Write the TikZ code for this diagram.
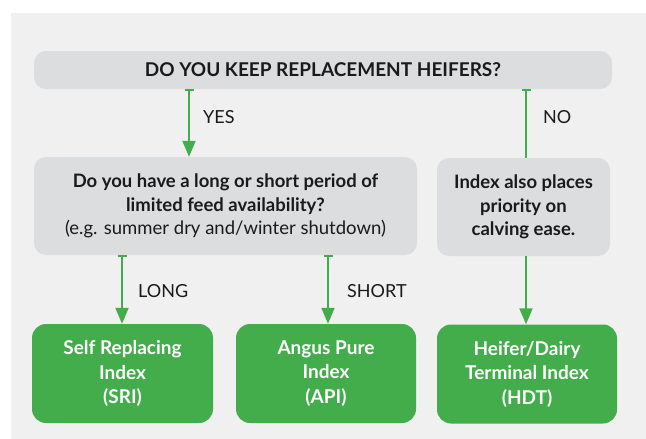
\documentclass[tikz,border=0pt]{standalone}
\usepackage{fontspec}
\setmainfont{Lato}
\usetikzlibrary{arrows.meta}
\definecolor{bgc}{HTML}{F0F0F0}
\definecolor{boxc}{HTML}{DCDDDF}
\definecolor{grn}{HTML}{43AD4B}
\definecolor{txt}{HTML}{1A1A1A}
\tikzset{
  qbox/.style={fill=boxc, draw=none, rounded corners=12pt, inner sep=0pt, text=txt, align=center},
  gbox/.style={fill=grn, draw=none, rounded corners=14pt, inner sep=0pt, text=white, align=center,
    font=\bfseries\fontsize{19}{24.5}\selectfont, minimum width=181pt, minimum height=99pt},
  conn/.style={draw=grn, line width=2pt, {Bar[width=9pt,line width=2pt]}-{Triangle[width=13pt,length=16pt]}},
  plain/.style={draw=grn, line width=2pt, {Bar[width=9pt,line width=2pt]}-},
  lbl/.style={anchor=west, text=txt, font=\fontsize{18}{20}\selectfont, inner sep=0pt}
}
\begin{document}
\begin{tikzpicture}[x=1pt,y=-1pt]
\useasboundingbox (0,0) rectangle (646,439);
\fill[bgc] (11,13) rectangle (646,439);
\node[qbox, minimum width=578pt, minimum height=38pt, font=\bfseries\fontsize{19}{20}\selectfont] (top) at (323,70) {DO YOU KEEP REPLACEMENT HEIFERS?};
\node[qbox, minimum width=383pt, minimum height=98pt, font=\fontsize{18.5}{23.5}\selectfont] (midL) at (225.5,206)
  {\textbf{Do you have a long or short period of}\\\textbf{limited feed availability?}\\(e.g. summer dry and/winter shutdown)};
\node[qbox, minimum width=173pt, minimum height=98pt, font=\bfseries\fontsize{18.5}{23.5}\selectfont] (midR) at (523.5,207)
  {Index also places\\priority on\\calving ease.};
\node[gbox] (sri) at (122.5,373.5) {Self Replacing\\Index\\(SRI)};
\node[gbox, minimum width=180pt] (api) at (326,373.5) {Angus Pure\\Index\\(API)};
\node[gbox, minimum width=180pt] (hdt) at (527,374) {Heifer/Dairy\\Terminal Index\\(HDT)};
\coordinate (xyes) at (189,0);
\coordinate (xno) at (526,0);
\coordinate (xlong) at (122,0);
\coordinate (xshort) at (328,0);
\draw[conn] (top.south -| xyes) -- (midL.north -| xyes);
\draw[plain] (top.south -| xno) -- (midR.north -| xno);
\draw[draw=grn, line width=2pt, -{Triangle[width=13pt,length=16pt]}] (midR.south -| xno) -- (hdt.north -| xno);
\draw[conn] (midL.south -| xlong) -- (sri.north -| xlong);
\draw[conn] (midL.south -| xshort) -- (api.north -| xshort);
\node[lbl] (yes) at (203,117) {YES};
\node[lbl] (no) at (543,117) {NO};
\node[lbl] (long) at (138,291) {LONG};
\node[lbl] (short) at (347,291) {SHORT};
\end{tikzpicture}
\end{document}
